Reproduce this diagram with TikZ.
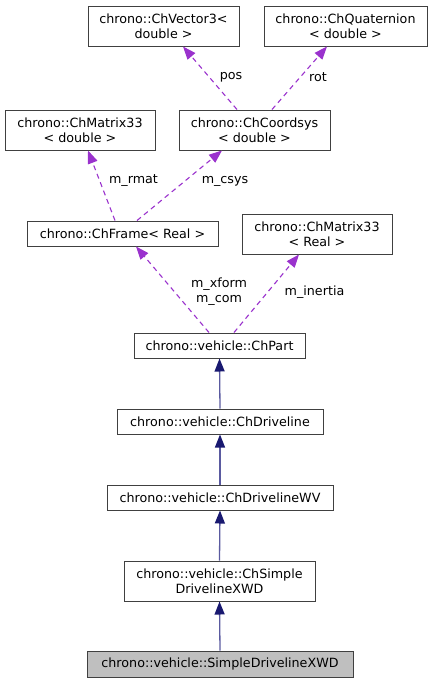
\documentclass[tikz,border=0pt]{standalone}
\usepackage{fontspec}
\setmainfont{DejaVu Sans}
\usetikzlibrary{arrows.meta,calc}
\definecolor{boxgray}{HTML}{404040}
\definecolor{dep}{HTML}{9A32CD}
\definecolor{navy}{HTML}{191970}
\definecolor{navyline}{HTML}{5A5AA0}
\definecolor{hilite}{HTML}{BFBFBF}
\tikzset{
  cls/.style={draw=boxgray, line width=1pt, fill=white, align=center, inner sep=0pt,
    font=\fontsize{12.7}{15}\selectfont},
  deplink/.style={draw=dep, line width=1.1pt, dash pattern=on 5pt off 4pt,
    -{Triangle[length=13pt,width=10pt,color=dep,fill=dep]}},
  inhlink/.style={draw=navyline, line width=1.3pt,
    -{Triangle[length=13pt,width=10pt,color=navy,fill=navy]}},
  lbl/.style={font=\fontsize{12.7}{15}\selectfont, align=center, inner sep=0pt}
}
\begin{document}
\begin{tikzpicture}[x=1pt,y=-1pt]
\useasboundingbox (0,0) rectangle (432,683);
\node[cls, minimum width=151pt, minimum height=40pt] (vec) at (163.5,26) {chrono::ChVector3<\\double >};
\node[cls, minimum width=163pt, minimum height=40pt] (quat) at (345.5,26) {chrono::ChQuaternion\\< double >};
\node[cls, minimum width=150pt, minimum height=40pt] (matd) at (80,130) {chrono::ChMatrix33\\< double >};
\node[cls, minimum width=151pt, minimum height=40pt] (csys) at (254.5,130) {chrono::ChCoordsys\\< double >};
\node[cls, minimum width=191pt, minimum height=25pt] (frame) at (122.5,233.5) {chrono::ChFrame< Real >};
\node[cls, minimum width=150pt, minimum height=40pt] (matr) at (317,234) {chrono::ChMatrix33\\< Real >};
\node[cls, minimum width=171pt, minimum height=25pt] (part) at (219.5,345.5) {chrono::vehicle::ChPart};
\node[cls, minimum width=206pt, minimum height=25pt] (drv) at (220,421.5) {chrono::vehicle::ChDriveline};
\node[cls, minimum width=226pt, minimum height=25pt] (drvwv) at (220,497.5) {chrono::vehicle::ChDrivelineWV};
\node[cls, minimum width=191pt, minimum height=40pt] (simple) at (219.5,581) {chrono::vehicle::ChSimple\\DrivelineXWD};
\node[cls, fill=hilite, minimum width=266pt, minimum height=26pt] (sxwd) at (220,664) {chrono::vehicle::SimpleDrivelineXWD};

\draw[deplink] ($(csys.north)+(-17.5pt,0)$) -- ($(vec.south)+(19.5pt,0)$);
\draw[deplink] ($(csys.north)+(17.5pt,0)$) -- ($(quat.south)+(-18.5pt,0)$);
\draw[deplink] ($(frame.north)+(-7.5pt,0)$) -- ($(matd.south)+(8pt,0)$);
\draw[deplink] ($(frame.north)+(14.5pt,0)$) -- ($(csys.south)+(-32.5pt,0)$);
\draw[deplink] ($(part.north)+(-10.5pt,0)$) -- ($(frame.south)+(13.5pt,0)$);
\draw[deplink] ($(part.north)+(14.5pt,0)$) -- ($(matr.south)+(-18pt,0)$);

\node[lbl] (lpos) at (231,77) {pos};
\node[lbl] (lrot) at (318,77) {rot};
\node[lbl] (lrmat) at (133.5,181) {m\_rmat};
\node[lbl] (lcsys) at (225,181) {m\_csys};
\node[lbl] (lxform) at (219,291.5) {m\_xform\\m\_com};
\node[lbl] (linertia) at (314.5,292) {m\_inertia};

\draw[inhlink] (drv.north) -- (part.south);
\draw[inhlink] (drvwv.north) -- (drv.south);
\draw[inhlink] (simple.north) -- (drvwv.south);
\draw[inhlink] (sxwd.north) -- (simple.south);
\end{tikzpicture}
\end{document}
